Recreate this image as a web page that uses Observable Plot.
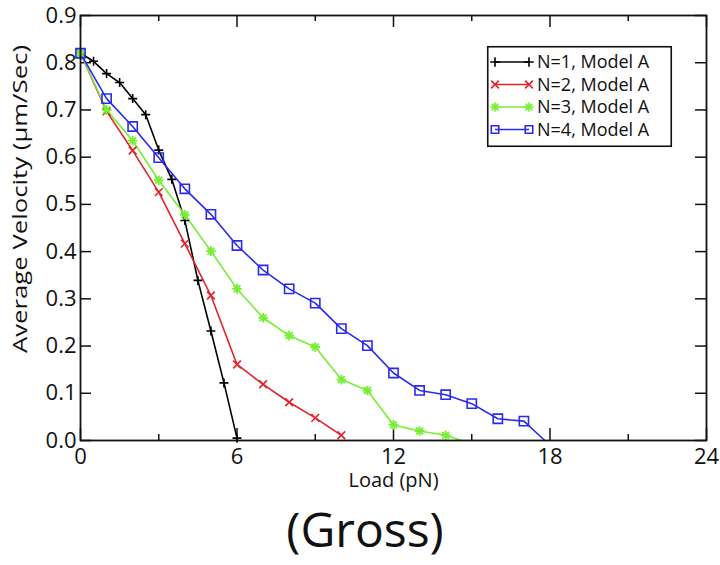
<!DOCTYPE html>
<html>
<head>
<meta charset="utf-8">
<script src="https://cdn.jsdelivr.net/npm/d3@7"></script>
<script src="https://cdn.jsdelivr.net/npm/@observablehq/plot@0.6"></script>
<style>
  body { margin: 0; background: #fff; }
  #wrap { position: relative; width: 720px; height: 565px; font-family: "Open Sans", sans-serif; }
  #chart { position: absolute; left: 0; top: 0; }
  #legend { position: absolute; left: 487px; top: 46px; }
  #caption { position: absolute; left: 0; width: 730px; top: 496px; text-align: center; font-size: 48px; color: #111; }
</style>
</head>
<body>
<div id="wrap">
  <div id="chart"></div>
  <div id="legend"></div>
  <div id="caption">(Gross)</div>
</div>
<script>
// ---- data ----
const seriesNames = ["N=1, Model A", "N=2, Model A", "N=3, Model A", "N=4, Model A"];
const seriesColors = ["#000000", "#e0242a", "#77ee33", "#2a2af0"];

const n1Load = [0, 0.5, 1, 1.5, 2, 2.5, 3, 3.5, 4, 4.5, 5, 5.5, 6];
const n1Vel  = [0.82, 0.803, 0.777, 0.758, 0.724, 0.69, 0.615, 0.553, 0.466, 0.339, 0.232, 0.122, 0.005];

const n2Load = [0, 1, 2, 3, 4, 5, 6, 7, 8, 9, 10];
const n2Vel  = [0.82, 0.697, 0.614, 0.526, 0.417, 0.307, 0.161, 0.119, 0.081, 0.048, 0.011];

const n3Load = [0, 1, 2, 3, 4, 5, 6, 7, 8, 9, 10, 11, 12, 13, 14, 14.6];
const n3Vel  = [0.82, 0.70, 0.635, 0.551, 0.478, 0.401, 0.321, 0.26, 0.222, 0.198, 0.129, 0.106, 0.033, 0.02, 0.011, 0.0];

const n4Load = [0, 1, 2, 3, 4, 5, 6, 7, 8, 9, 10, 11, 12, 13, 14, 15, 16, 17, 17.8];
const n4Vel  = [0.82, 0.724, 0.665, 0.599, 0.533, 0.479, 0.413, 0.361, 0.321, 0.291, 0.237, 0.201, 0.143, 0.106, 0.097, 0.078, 0.046, 0.041, 0.0];

const xTickLabels = [0, 6, 12, 18, 24];
const xMinorTicks = [3, 9, 15, 21];
const yTickLabels = [0, 0.1, 0.2, 0.3, 0.4, 0.5, 0.6, 0.7, 0.8, 0.9];

const xLabel = "Load (pN)";
const yLabel = "Average Velocity (\u00b5m/Sec)";

// ---- build tables ----
const loads = [n1Load, n2Load, n3Load, n4Load];
const vels = [n1Vel, n2Vel, n3Vel, n4Vel];
const tables = loads.map((ls, i) => ls.map((x, j) => ({series: seriesNames[i], x, y: vels[i][j]})));
// markers are only drawn at measured points (those above the axis)
const markerRows = tables.map(t => t.filter(d => d.y > 0.002));

const W = 720, H = 500;
const mL = 80, mR = 14, mT = 15, mB = 60;
const pw = W - mL - mR, ph = H - mT - mB;
const font = "Open Sans, sans-serif";

const marks = [
  // ticks (inward)
  Plot.tickX(xTickLabels, {x: d => d, insetTop: ph - 12, strokeWidth: 1.5}),
  Plot.tickX(xMinorTicks, {x: d => d, insetTop: ph - 6, strokeWidth: 1.5}),
  Plot.tickX(xTickLabels, {x: d => d, insetBottom: ph - 12, strokeWidth: 1.5}),
  Plot.tickX(xMinorTicks, {x: d => d, insetBottom: ph - 6, strokeWidth: 1.5}),
  Plot.tickY(yTickLabels, {y: d => d, insetRight: pw - 11, strokeWidth: 1.5}),
  Plot.tickY(yTickLabels, {y: d => d, insetLeft: pw - 11, strokeWidth: 1.5}),
];
tables.forEach((t, i) => {
  marks.push(Plot.line(t, {x: "x", y: "y", stroke: seriesColors[i], strokeWidth: 1.6}));
});
const sw = 1.6;
marks.push(Plot.dot(markerRows[0], {x: "x", y: "y", symbol: "plus", r: 3.0, stroke: seriesColors[0], strokeWidth: sw}));
marks.push(Plot.dot(markerRows[1], {x: "x", y: "y", symbol: "times", r: 3.6, stroke: seriesColors[1], strokeWidth: sw}));
marks.push(Plot.dot(markerRows[2], {x: "x", y: "y", symbol: "plus", r: 3.2, stroke: seriesColors[2], strokeWidth: 1.9}));
marks.push(Plot.dot(markerRows[2], {x: "x", y: "y", symbol: "times", r: 3.2, stroke: seriesColors[2], strokeWidth: 1.9}));
marks.push(Plot.dot(markerRows[3], {x: "x", y: "y", symbol: "square", r: 5.2, stroke: seriesColors[3], fill: "none", strokeWidth: sw}));
marks.push(Plot.frame({stroke: "#111", strokeWidth: 1.8}));
marks.push(Plot.axisX({ticks: xTickLabels, tickSize: 0, tickPadding: 8, tickFormat: d3.format("d"), label: null, fontSize: 22}));
marks.push(Plot.axisY({ticks: yTickLabels, tickSize: 0, tickPadding: 4, tickFormat: d3.format(".1f"), label: null, fontSize: 22}));
marks.push(Plot.text([xLabel], {text: d => d, frameAnchor: "bottom", dy: 46, fontSize: 20, fill: "#111"}));
marks.push(Plot.text([yLabel], {text: d => d, frameAnchor: "left", textAnchor: "middle", dx: -60, dy: -29, rotate: -90, fontSize: 20, fill: "#111"}));

const chart = Plot.plot({
  width: W, height: H,
  marginLeft: mL, marginRight: mR, marginTop: mT, marginBottom: mB,
  x: {domain: [0, 24]},
  y: {domain: [0, 0.9]},
  style: {fontFamily: font, color: "#111", background: "#fff", overflow: "visible"},
  marks
});
document.getElementById("chart").appendChild(chart);
// stretch the y label to the reference's length
d3.select(chart).selectAll("text")
  .filter(function () { return this.textContent === yLabel; })
  .attr("textLength", 308).attr("lengthAdjust", "spacingAndGlyphs");

// ---- legend ----
const lw = 185, lh = 101;
const lsvg = d3.select("#legend").append("svg").attr("width", lw).attr("height", lh).style("overflow", "visible");
lsvg.append("rect").attr("x", 0.75).attr("y", 0.75).attr("width", lw - 1.5).attr("height", lh - 1.5)
  .attr("fill", "#fff").attr("stroke", "#111").attr("stroke-width", 1.6);
const symbolsFor = [
  [[d3.symbolPlus, 3.2]],
  [[d3.symbolTimes, 3.6]],
  [[d3.symbolPlus, 3.2], [d3.symbolTimes, 3.2]],
  [[d3.symbolSquare, 4.2]]
];
seriesNames.forEach((name, i) => {
  const cy = 16 + i * 22.5;
  const g = lsvg.append("g");
  g.append("line").attr("x1", 8).attr("x2", 42).attr("y1", cy).attr("y2", cy)
    .attr("stroke", seriesColors[i]).attr("stroke-width", 1.6);
  [8, 42].forEach(cx => {
    symbolsFor[i].forEach(([sym, r]) => {
      g.append("path").attr("d", d3.symbol(sym, Math.PI * r * r)())
        .attr("transform", `translate(${cx},${cy})`)
        .attr("fill", "none").attr("stroke", seriesColors[i]).attr("stroke-width", 1.6);
    });
  });
  g.append("text").attr("x", 50).attr("y", cy).attr("dy", "0.36em")
    .attr("font-family", font).attr("font-size", 18).attr("fill", "#111").text(name);
});
</script>
</body>
</html>
